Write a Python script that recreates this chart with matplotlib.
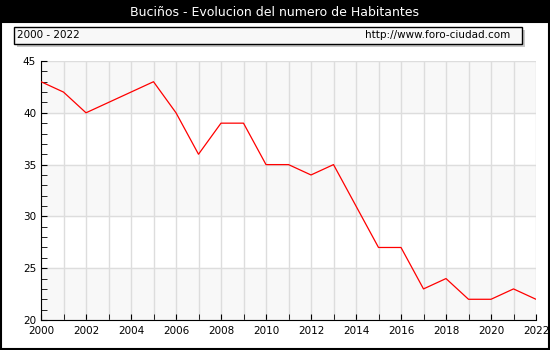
import matplotlib
matplotlib.use('Agg')
import matplotlib.pyplot as plt
from matplotlib.patches import Rectangle

years = list(range(2000, 2023))
habitantes = [43, 42, 40, 41, 42, 43, 40, 36, 39, 39, 35, 35, 34, 35, 31, 27, 27, 23, 24, 22, 22, 23, 22]
yticks = [20, 25, 30, 35, 40, 45]
xticks = list(range(2000, 2023, 2))

W, H = 550, 350
fig = plt.figure(figsize=(5.5, 3.5), dpi=100)
fig.patch.set_facecolor('white')

# barra del titulo y marco
fig.add_artist(Rectangle((0, (H - 22) / H), 1, 22 / H, transform=fig.transFigure,
                         facecolor='black', edgecolor='none'))
fig.add_artist(Rectangle((0.5 / W, 1.5 / H), (W - 2) / W, (H - 23) / H, transform=fig.transFigure,
                         facecolor='none', edgecolor='black', linewidth=1.5))
fig.text(0.5, (H - 12) / H, 'Buciños - Evolucion del numero de Habitantes', color='white',
         ha='center', va='center', fontsize=9)

# caja de info
fig.add_artist(Rectangle((17 / W, (H - 47) / H), 508 / W, 17 / H, transform=fig.transFigure,
                         facecolor='#c8c8c8', edgecolor='none'))
fig.add_artist(Rectangle((14 / W, (H - 44) / H), 508 / W, 17 / H, transform=fig.transFigure,
                         facecolor='#f8f8f8', edgecolor='black', linewidth=1))
fig.text(17 / W, (H - 35.5) / H, '2000 - 2022', ha='left', va='center', fontsize=7.5)
fig.text(510 / W, (H - 35.5) / H, 'http://www.foro-ciudad.com', ha='right', va='center', fontsize=7.5)

ax = fig.add_axes([41 / W, 30 / H, 495 / W, 259 / H])
for lo in [20, 30, 40]:
    ax.axhspan(lo, lo + 5, color='#f8f8f8', zorder=0)
ax.plot(years, habitantes, color='red', linewidth=0.9, zorder=3)

ax.set_xlim(2000, 2022)
ax.set_ylim(20, 45)
ax.set_xticks(xticks)
ax.set_xticks(years, minor=True)
ax.set_yticks(yticks)
ax.set_yticks(range(20, 46), minor=True)
ax.grid(True, which='both', axis='x', color='#dddddd', linewidth=1, zorder=1)
ax.grid(True, which='major', axis='y', color='#dddddd', linewidth=1, zorder=1)
ax.tick_params(which='both', direction='in', labelsize=7.5, color='black')
ax.tick_params(which='major', length=4)
ax.tick_params(which='minor', length=4)
ax.tick_params(axis='x', which='both', pad=4)
for s in ['top', 'right']:
    ax.spines[s].set_visible(False)
ax.set_axisbelow(True)

fig.savefig('out.png', dpi=100)
